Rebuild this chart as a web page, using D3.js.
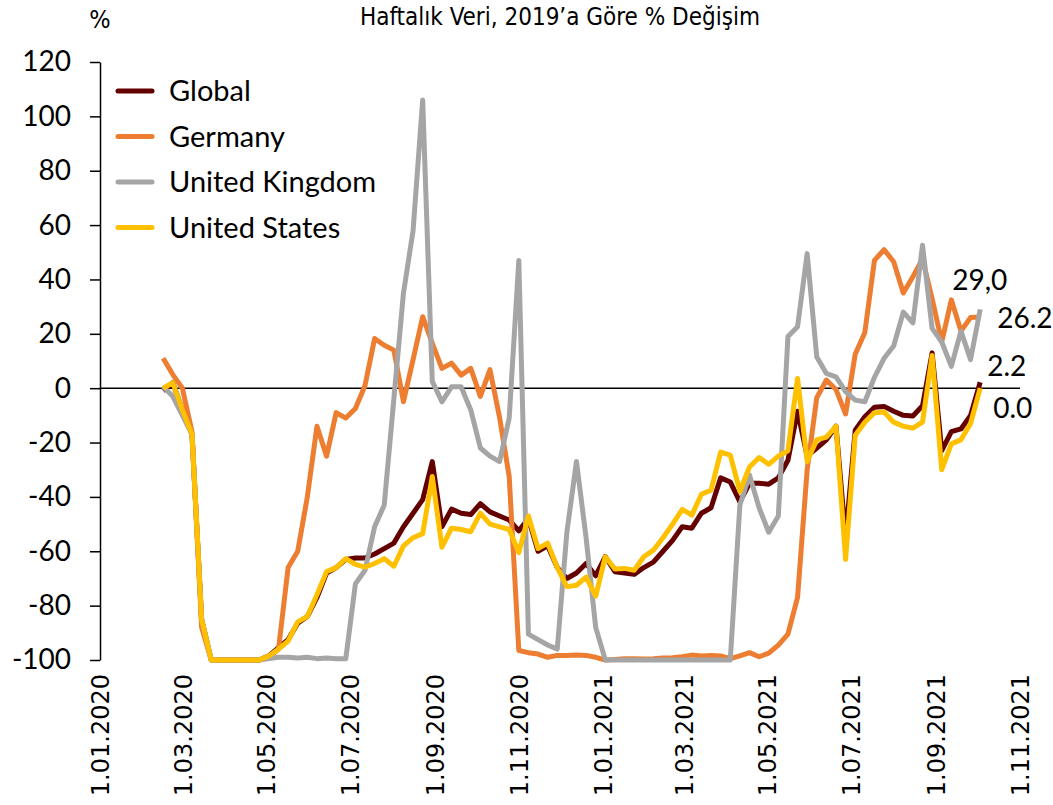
<!DOCTYPE html>
<html>
<head>
<meta charset="utf-8">
<script src="https://cdn.jsdelivr.net/npm/d3@7"></script>
<style>
  body { margin: 0; background: #fff; }
</style>
</head>
<body>
<div id="chart"></div>
<script>
// weekly data, % change vs 2019
const firstWeek = "2020-02-16";

const seriesNames = ["Global", "Germany", "United Kingdom", "United States"];
const seriesColors = ["#640000", "#ED7D31", "#A5A5A5", "#FFC000"];

const globalValues = [-1, 2, -8, -17, -85, -100, -100, -100, -100, -100, -100, -98.5, -95.5, -92.5, -86.5, -84, -77, -68, -66, -63,
  -62.5, -62.5, -61, -59, -57, -51, -46, -41, -27, -51, -44.5, -46, -46.5, -42.5, -45.5, -47, -48.5, -52.5, -48, -60,
  -58, -66, -70, -68, -64.5, -69, -62, -67.5, -68, -68.5, -66, -64, -60, -56, -51, -51.5, -46, -44, -33, -34.5,
  -41.8, -35, -35, -35.3, -33, -26.5, -8.5, -25, -22, -19, -14, -55, -15.5, -10.5, -7, -6.7, -8.5, -10, -10.2, -6.5,
  13, -23, -16, -15, -10, 2.2];

const germanyValues = [11, 5, 0, -16, -88, -100, -100, -100, -100, -100, -100, -99, -96, -66, -60, -40, -14, -25, -9, -11,
  -7.5, 1, 18.3, 15.8, 14, -5, 10.5, 26.3, 16.5, 7.3, 9.2, 4.8, 7.3, -3, 6.8, -10.8, -32.5, -96.5, -97.3, -97.8,
  -99, -98.3, -98.3, -98.2, -98.3, -99, -100, -99.8, -99.5, -99.5, -99.6, -99.5, -99.3, -99.2, -98.8, -98.2, -98.5, -98.3, -98.5, -99.5,
  -98.5, -97.3, -98.8, -97.5, -94.5, -90.5, -77, -30, -3.5, 3, -0.5, -9.5, 12.5, 20.5, 47, 51, 46.5, 35, 41, 47.5,
  33, 17, 32.5, 21, 26, 26.2];

const ukValues = [0.5, -3, -10, -17, -85, -100, -100, -100, -100, -100, -100, -99.5, -99, -99, -99.3, -99, -99.5, -99.3, -99.5, -99.5,
  -72, -67, -51, -43, -4, 35, 58, 106, 2.5, -5, 0.5, 0.5, -8, -22, -25, -27, -11, 47, -90.5, -92.5,
  -94.5, -96, -53, -27, -55, -88, -100, -100, -100, -100, -100, -100, -100, -100, -100, -100, -100, -100, -100, -100,
  -43, -32, -44, -53, -47, 19, 22.6, 49.5, 11.5, 5.4, 4.2, -1.3, -4.4, -5, 4, 11, 15.5, 28, 24, 52.6,
  22, 17, 8, 21, 10.5, 29];

const usValues = [0, 2, -8, -17, -85, -100, -100, -100, -100, -100, -100, -98.5, -96, -93, -86, -84, -76, -67.5, -66, -62.7,
  -64.8, -65.8, -64.5, -62.7, -65.5, -58, -55, -53.5, -32.5, -58.5, -51.5, -52, -52.8, -46, -50, -51, -52, -60.5, -47, -59,
  -57, -66, -73, -72.5, -69.5, -76.5, -62, -66.5, -66.3, -67, -62, -59.6, -55, -50, -44.6, -46.7, -39, -37.5, -23.5, -24.6,
  -38, -29, -25.5, -28, -25, -23, 3.6, -27, -19, -18, -14, -63, -17.3, -12.5, -9, -8.8, -12.5, -14, -14.7, -12.5,
  12, -30, -20.5, -19, -13, 0];

// last-value labels (as printed on the chart)
const endLabels = ["2.2", "26.2", "29,0", "0.0"];

const yTicks = [-100, -80, -60, -40, -20, 0, 20, 40, 60, 80, 100, 120];

const svgWidth = 1053;
const svgHeight = 805;
const margin = { top: 62, right: 33, bottom: 145, left: 100 };
const width = svgWidth - margin.left - margin.right;
const height = svgHeight - margin.top - margin.bottom;

const parseDate = d3.timeParse("%Y-%m-%d");
const start = parseDate(firstWeek);
const weeks = globalValues.map((d, i) => d3.timeDay.offset(start, 7 * i));

const allSeries = [globalValues, germanyValues, ukValues, usValues].map((vals, i) => ({
  name: seriesNames[i],
  color: seriesColors[i],
  label: endLabels[i],
  values: vals.map((v, j) => ({ date: weeks[j], value: v }))
}));

const svg = d3.select("#chart").append("svg")
  .attr("width", svgWidth)
  .attr("height", svgHeight);

const chartGroup = svg.append("g")
  .attr("transform", `translate(${margin.left}, ${margin.top})`);

const xScale = d3.scaleTime()
  .domain([new Date(2020, 0, 1), new Date(2021, 10, 1)])
  .range([0, width]);

const yScale = d3.scaleLinear()
  .domain([-100, 120])
  .range([height, 0]);

// title + unit
svg.append("text")
  .attr("x", 560)
  .attr("y", 25)
  .attr("text-anchor", "middle")
  .style("font-family", "'DejaVu Sans Condensed', 'DejaVu Sans'")
  .style("font-size", "24px")
  .attr("fill", "#000")
  .text("Haftalık Veri, 2019’a Göre % Değişim");

svg.append("text")
  .attr("x", 100)
  .attr("y", 28)
  .attr("text-anchor", "middle")
  .style("font-family", "'DejaVu Sans Condensed', 'DejaVu Sans'")
  .style("font-size", "25px")
  .text("%");

// y axis
const leftAxis = d3.axisLeft(yScale)
  .tickValues(yTicks)
  .tickFormat(d => String(d))
  .tickSize(10)
  .tickSizeOuter(0)
  .tickPadding(19);

const yAxis = chartGroup.append("g")
  .call(leftAxis);
yAxis.select(".domain").attr("stroke", "#000").attr("stroke-width", 1.5);
yAxis.selectAll(".tick line").attr("stroke", "#000").attr("stroke-width", 1.5);
yAxis.selectAll("text")
  .style("font-family", "Lato, 'Open Sans', sans-serif")
  .style("font-size", "28px")
  .attr("fill", "#000");

// x axis labels only (no axis line)
const tickDates = d3.timeMonth.every(2).range(new Date(2020, 0, 1), new Date(2021, 10, 2));
const formatTick = d3.timeFormat("%-d.%m.%Y");

const bottomAxis = d3.axisBottom(xScale)
  .tickValues(tickDates)
  .tickFormat(formatTick)
  .tickSize(0)
  .tickSizeOuter(0);

const xAxis = chartGroup.append("g")
  .attr("transform", `translate(0, ${height})`)
  .call(bottomAxis);
xAxis.select(".domain").remove();
xAxis.selectAll("text")
  .attr("transform", "rotate(-90)")
  .attr("text-anchor", "end")
  .attr("x", -14)
  .attr("y", 0)
  .attr("dy", "0.36em")
  .style("font-family", "'DejaVu Sans', sans-serif")
  .style("font-size", "24px")
  .attr("fill", "#000");

// zero line
chartGroup.append("line")
  .attr("x1", 0)
  .attr("x2", width)
  .attr("y1", yScale(0))
  .attr("y2", yScale(0))
  .attr("stroke", "#000")
  .attr("stroke-width", 1.6);

// lines
const line = d3.line()
  .x(d => xScale(d.date))
  .y(d => yScale(d.value));

chartGroup.selectAll(".series")
  .data(allSeries)
  .enter()
  .append("path")
  .attr("class", "series")
  .attr("d", d => line(d.values))
  .attr("fill", "none")
  .attr("stroke", d => d.color)
  .attr("stroke-width", 5)
  .attr("stroke-linejoin", "round");

// end labels
const labelOffsets = [[7, -6], [17, 11], [-28, -19], [13, 30]];
chartGroup.selectAll(".end-label")
  .data(allSeries)
  .enter()
  .append("text")
  .attr("class", "end-label")
  .attr("x", (d, i) => xScale(d.values[d.values.length - 1].date) + labelOffsets[i][0])
  .attr("y", (d, i) => yScale(d.values[d.values.length - 1].value) + labelOffsets[i][1])
  .style("font-family", "Lato, 'Open Sans', sans-serif")
  .style("font-size", "28px")
  .attr("fill", "#000")
  .text(d => d.label);

// legend
const legend = chartGroup.append("g")
  .attr("transform", "translate(18, 29)");

const legendRows = legend.selectAll("g")
  .data(allSeries)
  .enter()
  .append("g")
  .attr("transform", (d, i) => `translate(0, ${i * 45.5})`);

legendRows.append("line")
  .attr("x1", 0)
  .attr("x2", 34)
  .attr("stroke", d => d.color)
  .attr("stroke-width", 5)
  .attr("stroke-linecap", "round");

legendRows.append("text")
  .attr("x", 51)
  .attr("dy", "0.36em")
  .style("font-family", "Lato, 'Open Sans', sans-serif")
  .style("font-size", "29px")
  .attr("fill", "#000")
  .text(d => d.name);
</script>
</body>
</html>
